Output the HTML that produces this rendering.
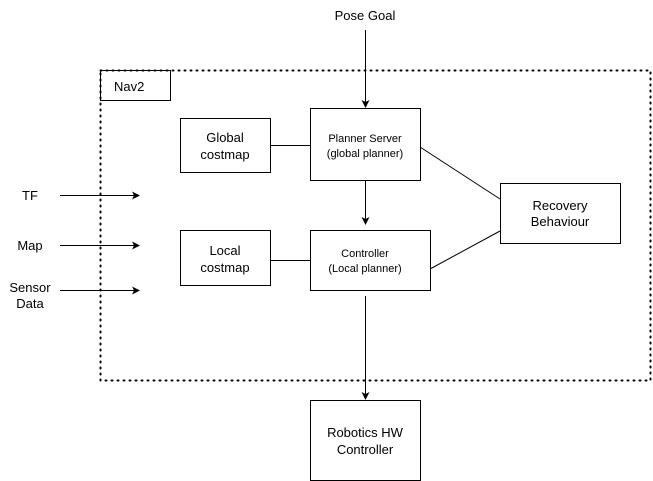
<!DOCTYPE html>
<html><head><style>
html,body{margin:0;padding:0;background:#fff;}
svg{display:block;font-family:"Liberation Sans",Arial,sans-serif;}
</style></head><body>
<svg width="653" height="481" viewBox="0 0 653 481" xmlns="http://www.w3.org/2000/svg">
<defs><marker id="a" markerWidth="8" markerHeight="8" refX="7" refY="4" orient="auto" markerUnits="userSpaceOnUse"><path d="M0,0 L8,4 L0,8 L2,4 z" fill="#000"/></marker></defs>
<rect x="100.5" y="70.5" width="550" height="310" fill="none" stroke="#000" stroke-width="2" stroke-dasharray="1,5" stroke-linecap="round"/>
<rect x="100.5" y="70.5" width="70" height="30" fill="none" stroke="#000"/>
<text x="114" y="91" font-size="13">Nav2</text>
<g fill="#fff" stroke="#000">
<rect x="180.5" y="118.5" width="90" height="54"/>
<rect x="310.5" y="108.5" width="110" height="72"/>
<rect x="180.5" y="230.5" width="90" height="55"/>
<rect x="310.5" y="230.5" width="120" height="60"/>
<rect x="500.5" y="183.5" width="120" height="60"/>
<rect x="310.5" y="400.5" width="110" height="80"/>
</g>
<g stroke="#000" fill="none">
<line x1="270" y1="145.5" x2="310" y2="145.5"/>
<line x1="270" y1="260.5" x2="310" y2="260.5"/>
<line x1="420" y1="147" x2="500" y2="199"/>
<line x1="430" y1="269" x2="500" y2="231"/>
<line x1="365.5" y1="30" x2="365.5" y2="107" marker-end="url(#a)"/>
<line x1="365.5" y1="181" x2="365.5" y2="224" marker-end="url(#a)"/>
<line x1="365.5" y1="296" x2="365.5" y2="399" marker-end="url(#a)"/>
<line x1="60" y1="195.5" x2="139" y2="195.5" marker-end="url(#a)"/>
<line x1="60" y1="245.5" x2="139" y2="245.5" marker-end="url(#a)"/>
<line x1="60" y1="290.5" x2="139" y2="290.5" marker-end="url(#a)"/>
</g>
<g font-size="13" text-anchor="middle" fill="#000">
<text x="365" y="20">Pose Goal</text>
<text x="225" y="142">Global</text><text x="225" y="159">costmap</text>
<text x="225" y="255">Local</text><text x="225" y="272">costmap</text>
<text x="560" y="210">Recovery</text><text x="560" y="226">Behaviour</text>
<text x="365" y="437">Robotics HW</text><text x="365" y="454">Controller</text>
<text x="30" y="200">TF</text>
<text x="30" y="250">Map</text>
<text x="30" y="292">Sensor</text><text x="30" y="308">Data</text>
</g>
<g font-size="11" text-anchor="middle" fill="#000">
<text x="365" y="142">Planner Server</text><text x="365" y="157">(global planner)</text>
<text x="365" y="257">Controller</text><text x="365" y="272">(Local planner)</text>
</g>
</svg>
</body></html>
